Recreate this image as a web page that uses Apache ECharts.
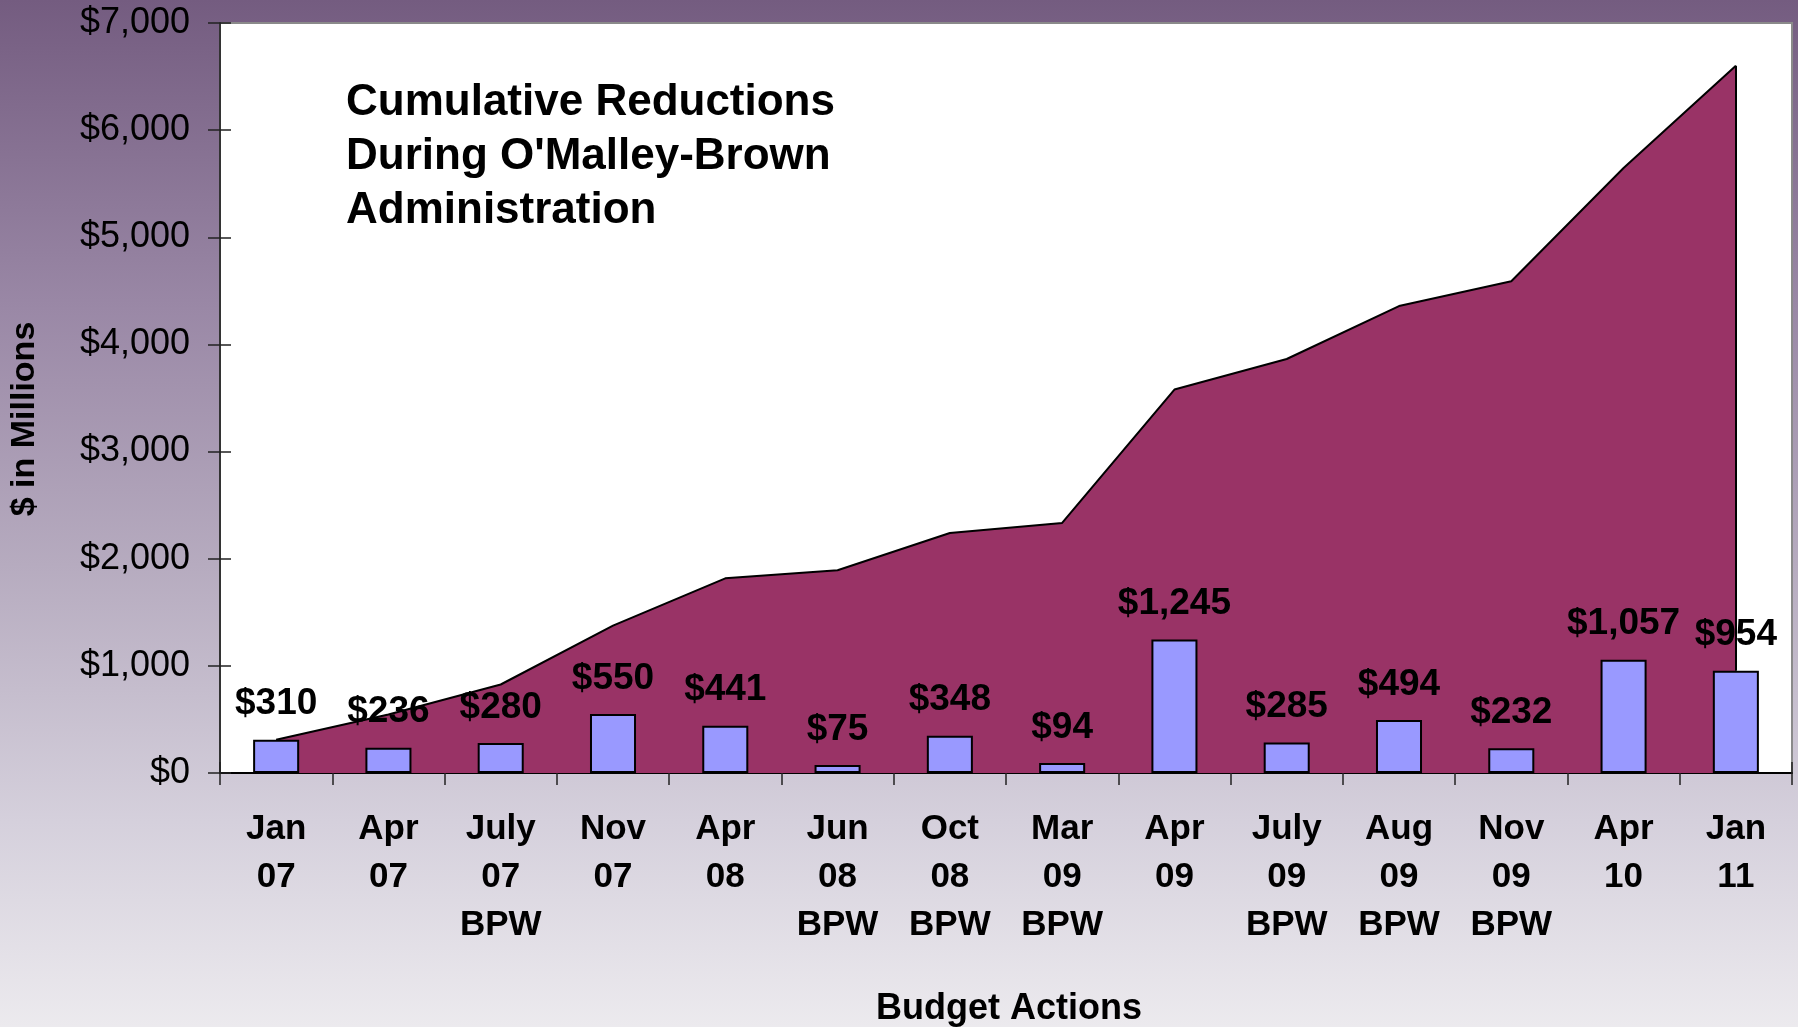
<!DOCTYPE html>
<html>
<head>
<meta charset="utf-8">
<script src="https://cdn.jsdelivr.net/npm/echarts@6/dist/echarts.min.js"></script>
<style>
  html, body { margin: 0; padding: 0; }
  #chart { width: 1798px; height: 1027px; }
</style>
</head>
<body>
<div id="chart"></div>
<script>
// budget actions (x axis)
var actions = [
  "Jan\n07", "Apr\n07", "July\n07\nBPW", "Nov\n07", "Apr\n08", "Jun\n08\nBPW",
  "Oct\n08\nBPW", "Mar\n09\nBPW", "Apr\n09", "July\n09\nBPW", "Aug\n09\nBPW",
  "Nov\n09\nBPW", "Apr\n10", "Jan\n11"
];
// reduction per action, $ millions
var reductions = [310, 236, 280, 550, 441, 75, 348, 94, 1245, 285, 494, 232, 1057, 954];
// cumulative reductions, $ millions
var cumulative = [310, 546, 826, 1376, 1817, 1892, 2240, 2334, 3579, 3864, 4358, 4590, 5647, 6601];
var yTicks = [0, 1000, 2000, 3000, 4000, 5000, 6000, 7000];

var FONT = "'Liberation Sans', Arial, sans-serif";

function money(v) {
  return "$" + String(v).replace(/\B(?=(\d{3})+(?!\d))/g, ",");
}

var myChart = echarts.init(document.getElementById("chart"));
var last = cumulative.length - 1;

var option = {
  animation: false,
  backgroundColor: {
    type: "linear", x: 0, y: 0, x2: 0, y2: 1,
    colorStops: [
      { offset: 0, color: "#745c80" },
      { offset: 0.3, color: "#9a88a6" },
      { offset: 0.55, color: "#b6abbf" },
      { offset: 0.8, color: "#d5d0dc" },
      { offset: 1, color: "#eceaee" }
    ]
  },
  grid: {
    left: 220, right: 6, top: 23, bottom: 254,
    show: true, backgroundColor: "#ffffff", borderColor: "#8a8a8a", borderWidth: 2
  },
  title: {
    text: "Cumulative Reductions\nDuring O'Malley-Brown\nAdministration",
    left: 346, top: 76, padding: 0,
    textStyle: { fontFamily: FONT, fontWeight: "bold", fontSize: 44, lineHeight: 54, color: "#000" }
  },
  graphic: [
    {
      type: "text", x: 25, y: 419, rotation: Math.PI / 2,
      style: {
        text: "$ in Millions", font: "bold 34px " + FONT, fill: "#000",
        textAlign: "center", textVerticalAlign: "middle"
      }
    },
    {
      type: "text", x: 1009, y: 1009,
      style: {
        text: "Budget Actions", font: "bold 36px " + FONT, fill: "#000",
        textAlign: "center", textVerticalAlign: "middle"
      }
    }
  ],
  xAxis: [
    {
      type: "category", data: actions, boundaryGap: true,
      axisLine: { lineStyle: { color: "#000", width: 2 } },
      axisTick: { show: true, length: 12, lineStyle: { color: "#222", width: 1.5 } },
      axisLabel: {
        interval: 0, margin: 32, color: "#000", fontFamily: FONT,
        fontWeight: "bold", fontSize: 35, lineHeight: 48
      }
    },
    {
      type: "category", data: actions, position: "bottom",
      axisLine: { show: false },
      axisTick: { show: true, inside: true, length: 11, lineStyle: { color: "#222", width: 1.5 } },
      axisLabel: { show: false }
    }
  ],
  yAxis: [
    {
      type: "value", min: yTicks[0], max: yTicks[yTicks.length - 1], interval: 1000,
      splitLine: { show: false },
      axisLine: { show: true, lineStyle: { color: "#333", width: 2 } },
      axisTick: { show: true, length: 12, lineStyle: { color: "#222", width: 1.5 } },
      axisLabel: {
        margin: 30, color: "#000", fontFamily: FONT, fontSize: 36,
        formatter: function (v) { return money(v); }
      }
    },
    {
      type: "value", min: yTicks[0], max: yTicks[yTicks.length - 1], interval: 1000,
      position: "left", splitLine: { show: false },
      axisLine: { show: false },
      axisTick: { show: true, inside: true, length: 11, lineStyle: { color: "#222", width: 1.5 } },
      axisLabel: { show: false }
    }
  ],
  series: [
    {
      name: "Cumulative",
      type: "line",
      data: cumulative,
      symbol: "none",
      z: 2,
      lineStyle: { color: "#000", width: 2 },
      areaStyle: { color: "#993366", opacity: 1 },
      markLine: {
        silent: true,
        symbol: "none",
        label: { show: false },
        lineStyle: { color: "#000", width: 2, type: "solid" },
        data: [[
          { coord: [actions[last], reductions[last]] },
          { coord: [actions[last], cumulative[last]] }
        ]]
      }
    },
    {
      name: "Reduction",
      type: "bar",
      data: reductions,
      barWidth: "41%",
      z: 3,
      itemStyle: { color: "#9999ff", borderColor: "#000", borderWidth: 2 },
      label: {
        show: true, position: "top", distance: 17, color: "#000",
        fontFamily: FONT, fontWeight: "bold", fontSize: 37,
        formatter: function (p) { return money(p.value); }
      }
    }
  ]
};
myChart.setOption(option);
</script>
</body>
</html>
